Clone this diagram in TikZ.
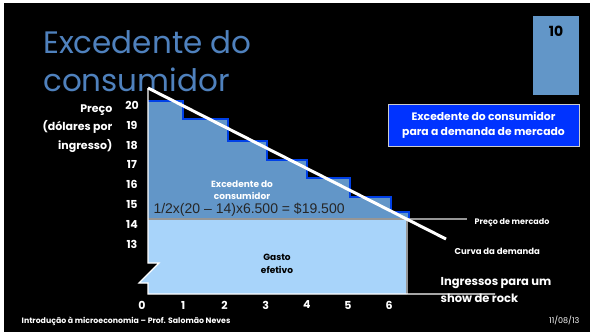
\documentclass[tikz,border=0pt]{standalone}
\usepackage{fontspec}
\setmainfont{Poppins}
\newfontfamily\arialfont{Liberation Sans}
\definecolor{titleblue}{RGB}{79,129,189}
\definecolor{stepblue}{RGB}{98,150,200}
\definecolor{edgeblue}{RGB}{0,64,230}
\definecolor{boxblue}{RGB}{0,51,255}
\definecolor{paleblue}{RGB}{168,212,250}
\definecolor{pricegray}{RGB}{150,150,150}

\begin{document}
\begin{tikzpicture}[x=1pt,y=-1pt,
    titlelbl/.style={anchor=base west,inner sep=0,text=titleblue,font=\fontsize{31}{31}\selectfont},
    ticklbl/.style={text=white,inner sep=0.5,font=\bfseries\fontsize{11}{13}\selectfont},
    smalllbl/.style={text=white,inner sep=0.5,font=\bfseries\fontsize{8}{10}\selectfont},
    arealbl/.style={align=center,inner sep=0.5,font=\bfseries\fontsize{9}{12.5}\selectfont}]

  \useasboundingbox (0,0) rectangle (590,333);
  \fill[black] (4,3) rectangle (590,332);

  % title and slide number
  \node[titlelbl] (title1) at (43,53) {Excedente do};
  \node[titlelbl] (title2) at (43,91) {consumidor};
  \fill[stepblue] (533,16) rectangle (579,95);
  \node[font=\bfseries\fontsize{14}{14}\selectfont] (slide) at (556,31) {10};

  \node[draw=white!80!black,fill=boxblue,minimum width=191,minimum height=42,align=center,
        text=white,font=\bfseries\fontsize{10.8}{15}\selectfont] (mkt) at (483.5,125)
        {Excedente do consumidor\\para a demanda de mercado};

  % points of the graph
  \coordinate (top)    at (148,88);
  \coordinate (origin) at (148,294);
  \coordinate (xend)   at (495,294);
  \coordinate (pleft)  at (148,219);
  \coordinate (pright) at (467,219);
  \coordinate (qstar)  at (407,219);
  \coordinate (qbase)  at (407,294);
  \coordinate (dend)   at (446,239);

  % gasto efetivo
  \fill[paleblue] (pleft) -- (qstar) -- (qbase) -- (origin) -- (148,283) -- (139,283)
                  -- (159,263) -- (148,263) -- cycle;

  % excedente do consumidor
  \fill[stepblue] (148,101) -- (183,101) -- (183,119) -- (228,119) -- (228,141) -- (267,141)
                  -- (267,160) -- (307,160) -- (307,178) -- (350,178) -- (350,197) -- (391,197)
                  -- (391,212) -- (409,212) -- (409,219) -- (pleft) -- cycle;
  \draw[edgeblue,line width=2.5] (148,101) -- (183,101) -- (183,119) -- (228,119) -- (228,141)
                  -- (267,141) -- (267,160) -- (307,160) -- (307,178) -- (350,178) -- (350,197)
                  -- (391,197) -- (391,212) -- (409,212) -- (409,219);

  \draw[pricegray,line width=2] (qstar) -- (qbase);
  \draw[pricegray,line width=1.5] (pleft) -- (pright);
  \draw[white,line width=3] (top) -- (dend);

  % axes with break
  \draw[white,line width=1.2] (top) -- (148,263) -- (159,263) -- (139,283) -- (148,283)
                  -- (origin) -- (xend);

  \begin{scope}[every node/.style={ticklbl}]
    \node (y20) at (132,105) {20};
    \node (y19) at (132,125) {19};
    \node (y18) at (132,145) {18};
    \node (y17) at (132,164) {17};
    \node (y16) at (132,184) {16};
    \node (y15) at (132,204) {15};
    \node (y14) at (132,224) {14};
    \node (y13) at (132,244) {13};
    \foreach \i in {0,...,6}
      \node (x\i) at (142+41.2*\i,305) {\i};
  \end{scope}

  \begin{scope}[every node/.style={ticklbl,anchor=base east}]
    \node (ylbl1) at (113,112) {Preço};
    \node (ylbl2) at (113,130) {(dólares por};
    \node (ylbl3) at (113,149) {ingresso)};
  \end{scope}

  \node[ticklbl,anchor=north west,align=left,font=\bfseries\fontsize{11.5}{17}\selectfont] (xlbl) at (440,277)
       {Ingressos para um\\show de rock};

  % area labels
  \node[arealbl,text=white] (exc) at (242,190) {Excedente do\\consumidor};
  \node[anchor=west,text=black!85,font=\arialfont\fontsize{14}{14}\selectfont] (calc) at (150,210)
       {1/2x(20 – 14)x6.500 = \$19.500};
  \node[arealbl,text=black] (gasto) at (277,264) {Gasto\\efetivo};

  \node[smalllbl,anchor=west] (preco) at (474,223) {Preço de mercado};
  \node[smalllbl,anchor=west,font=\bfseries\fontsize{8.5}{10}\selectfont] (curva) at (454,251) {Curva da demanda};

  % footer
  \node[smalllbl,anchor=west,font=\bfseries\fontsize{7.8}{9}\selectfont] (foot) at (21,321)
       {Introdução à microeconomia – Prof. Salomão Neves};
  \node[smalllbl,anchor=east,font=\fontsize{8}{9}\selectfont] (date) at (580,320) {11/08/13};

\end{tikzpicture}
\end{document}
